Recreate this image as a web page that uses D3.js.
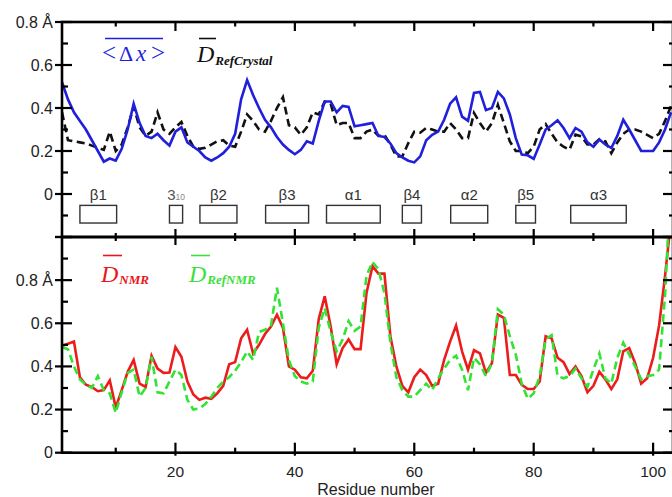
<!DOCTYPE html>
<html>
<head>
<meta charset="utf-8">
<script src="https://cdn.jsdelivr.net/npm/d3@7"></script>
<style>
  html, body { margin: 0; padding: 0; background: #fff; }
  svg { display: block; }
</style>
</head>
<body>
<svg id="chart" width="672" height="497"></svg>
<script>
// Residue numbers 1..103
const residues = d3.range(1, 104);

// Top panel: mean positional fluctuation <Δx> and crystal reference distance
const dxMean = [
  0.52, 0.44, 0.38, 0.34, 0.30, 0.25, 0.20, 0.15, 0.165, 0.155,
  0.21, 0.30, 0.42, 0.33, 0.27, 0.26, 0.28, 0.25, 0.225, 0.29,
  0.31, 0.24, 0.22, 0.20, 0.17, 0.155, 0.17, 0.19, 0.22, 0.28,
  0.44, 0.53, 0.46, 0.40, 0.345, 0.31, 0.265, 0.23, 0.205, 0.185,
  0.205, 0.245, 0.235, 0.34, 0.43, 0.43, 0.38, 0.41, 0.405, 0.315,
  0.32, 0.325, 0.33, 0.27, 0.265, 0.235, 0.19, 0.17, 0.155, 0.147,
  0.175, 0.25, 0.275, 0.29, 0.345, 0.42, 0.45, 0.36, 0.34, 0.47,
  0.475, 0.39, 0.40, 0.475, 0.445, 0.37, 0.26, 0.183, 0.18, 0.163,
  0.23, 0.30, 0.32, 0.343, 0.307, 0.26, 0.307, 0.29, 0.24, 0.22,
  0.253, 0.23, 0.214, 0.27, 0.345, 0.30, 0.25, 0.20, 0.20, 0.20,
  0.24, 0.30, 0.38
];
const dRefCrystal = [
  0.38, 0.25, 0.245, 0.24, 0.235, 0.225, 0.215, 0.205, 0.29, 0.20,
  0.23, 0.31, 0.405, 0.31, 0.27, 0.29, 0.38, 0.30, 0.28, 0.31,
  0.335, 0.27, 0.22, 0.21, 0.215, 0.23, 0.245, 0.25, 0.225, 0.22,
  0.29, 0.37, 0.34, 0.30, 0.29, 0.34, 0.40, 0.45, 0.32, 0.31,
  0.275, 0.31, 0.38, 0.37, 0.43, 0.42, 0.32, 0.33, 0.33, 0.26,
  0.26, 0.29, 0.30, 0.27, 0.275, 0.23, 0.175, 0.175, 0.237, 0.29,
  0.285, 0.307, 0.30, 0.29, 0.29, 0.33, 0.30, 0.26, 0.26, 0.377,
  0.33, 0.29, 0.33, 0.415, 0.33, 0.245, 0.20, 0.20, 0.19, 0.22,
  0.30, 0.325, 0.28, 0.24, 0.22, 0.206, 0.276, 0.268, 0.23, 0.23,
  0.255, 0.245, 0.19, 0.24, 0.28, 0.30, 0.30, 0.29, 0.275, 0.26,
  0.28, 0.34, 0.41
];

// Bottom panel: NMR ensemble distance and NMR reference distance
const dNMR = [
  0.495, 0.505, 0.515, 0.35, 0.315, 0.305, 0.285, 0.29, 0.335, 0.21,
  0.29, 0.375, 0.43, 0.32, 0.305, 0.45, 0.39, 0.37, 0.372, 0.49,
  0.445, 0.33, 0.27, 0.245, 0.255, 0.25, 0.275, 0.31, 0.41, 0.42,
  0.53, 0.57, 0.46, 0.50, 0.55, 0.585, 0.64, 0.58, 0.40, 0.385,
  0.35, 0.345, 0.38, 0.62, 0.725, 0.585, 0.41, 0.485, 0.525, 0.48,
  0.48, 0.74, 0.865, 0.83, 0.83, 0.54, 0.40, 0.31, 0.28, 0.35,
  0.385, 0.36, 0.31, 0.32, 0.43, 0.515, 0.59, 0.47, 0.385, 0.475,
  0.46, 0.37, 0.415, 0.64, 0.625, 0.36, 0.36, 0.315, 0.295, 0.295,
  0.33, 0.54, 0.53, 0.44, 0.42, 0.365, 0.40, 0.355, 0.28, 0.31,
  0.375, 0.34, 0.295, 0.34, 0.47, 0.485, 0.415, 0.32, 0.345, 0.44,
  0.59, 0.82, 1.08
];
const dRefNMR = [
  0.49, 0.48, 0.40, 0.34, 0.315, 0.30, 0.355, 0.29, 0.275, 0.185,
  0.28, 0.37, 0.385, 0.26, 0.30, 0.445, 0.28, 0.275, 0.33, 0.385,
  0.36, 0.245, 0.20, 0.205, 0.225, 0.26, 0.30, 0.33, 0.35, 0.38,
  0.42, 0.47, 0.43, 0.56, 0.57, 0.59, 0.765, 0.60, 0.43, 0.355,
  0.33, 0.32, 0.33, 0.58, 0.67, 0.56, 0.47, 0.525, 0.61, 0.565,
  0.585, 0.82, 0.885, 0.85, 0.74, 0.51, 0.35, 0.29, 0.26, 0.26,
  0.29, 0.32, 0.29, 0.345, 0.39, 0.43, 0.45, 0.385, 0.29, 0.44,
  0.41, 0.355, 0.415, 0.665, 0.64, 0.54, 0.455, 0.32, 0.25, 0.275,
  0.355, 0.525, 0.545, 0.355, 0.345, 0.355, 0.39, 0.345, 0.305, 0.385,
  0.46, 0.345, 0.32, 0.44, 0.51, 0.455, 0.40, 0.34, 0.355, 0.36,
  0.385, 0.73, 1.3
];

// Secondary structure elements (residue ranges)
const ssMain  = ["β1", "3", "β2", "β3", "α1", "β4", "α2", "β5", "α3"];
const ssSub   = ["", "10", "", "", "", "", "", "", ""];
const ssStart = [4.0, 19.0, 24.1, 35.1, 45.3, 58.0, 66.1, 77.0, 86.2];
const ssEnd   = [10.15, 21.2, 30.3, 42.3, 54.3, 61.2, 72.3, 80.3, 95.5];

// Axis ticks
const xMajorTicks = [20, 40, 60, 80, 100];
const xMinorTicks = [10, 30, 50, 70, 90];
const xTickLabels = ["20", "40", "60", "80", "100"];
const yTopMajor = [-0.2, 0, 0.2, 0.4, 0.6, 0.8];
const yTopMinor = [-0.1, 0.1, 0.3, 0.5, 0.7];
const yTopLabels = [["0", 0], ["0.2", 0.2], ["0.4", 0.4], ["0.6", 0.6], ["0.8 Å", 0.8]];
const yBotMajor = [0, 0.2, 0.4, 0.6, 0.8, 1.0];
const yBotMinor = [0.1, 0.3, 0.5, 0.7, 0.9];
const yBotLabels = [["0", 0], ["0.2", 0.2], ["0.4", 0.4], ["0.6", 0.6], ["0.8 Å", 0.8]];

(function draw() {
  const svg = d3.select("#chart");
  const pL = 62, pR = 673, pT = 22, pM = 237, pB = 452.7;

  const x = d3.scaleLinear().domain([1, 103.33]).range([pL, pR]);
  const yTop = d3.scaleLinear().domain([-0.2, 0.8]).range([pM, pT]);
  const yBot = d3.scaleLinear().domain([0, 1.0]).range([pB, pM]);

  const sans = "'Liberation Sans', Arial, Helvetica, sans-serif";
  const serif = "'Liberation Serif', 'Times New Roman', serif";

  const COL_BLUE = "#1f1fdc", COL_RED = "#ec1c1c", COL_GREEN = "#33e333";

  const defs = svg.append("defs");
  defs.append("clipPath").attr("id", "clipTop")
    .append("rect").attr("x", pL).attr("y", pT).attr("width", pR - pL).attr("height", pM - pT);
  defs.append("clipPath").attr("id", "clipBot")
    .append("rect").attr("x", pL).attr("y", pM).attr("width", pR - pL).attr("height", pB - pM);

  // data lines
  function drawLine(values, yScale, clip, color, dash) {
    const pts = residues.map((r, i) => [r, values[i]]);
    const line = d3.line().x(d => x(d[0])).y(d => yScale(d[1]));
    svg.append("path")
      .attr("clip-path", `url(#${clip})`)
      .attr("d", line(pts))
      .attr("fill", "none")
      .attr("stroke", color)
      .attr("stroke-width", 2.6)
      .attr("stroke-linejoin", "miter")
      .attr("stroke-dasharray", dash || null);
  }
  drawLine(dRefCrystal, yTop, "clipTop", "#111", "8,4.5");
  drawLine(dxMean, yTop, "clipTop", COL_BLUE);
  drawLine(dNMR, yBot, "clipBot", COL_RED);
  drawLine(dRefNMR, yBot, "clipBot", COL_GREEN, "8,4.5");

  // secondary structure boxes
  const ss = svg.append("g");
  ssMain.forEach((name, i) => {
    const x0 = x(ssStart[i]), x1 = x(ssEnd[i]);
    ss.append("rect")
      .attr("x", x0).attr("y", yTop(-0.053))
      .attr("width", x1 - x0).attr("height", yTop(-0.135) - yTop(-0.053))
      .attr("fill", "#fff").attr("stroke", "#333").attr("stroke-width", 1.4);
    const t = ss.append("text")
      .attr("x", (x0 + x1) / 2).attr("y", yTop(-0.028))
      .attr("text-anchor", "middle")
      .attr("font-family", sans).attr("font-size", 15).attr("fill", "#333");
    t.append("tspan").text(name).attr("fill", ssSub[i] ? "#555" : "#333");
    if (ssSub[i]) {
      t.append("tspan").text(ssSub[i]).attr("font-size", 8.5).attr("fill", "#888");
    }
  });

  // frames
  const frame = svg.append("g").attr("fill", "none").attr("stroke", "#000").attr("stroke-width", 2.6);
  frame.append("rect").attr("x", pL).attr("y", pT).attr("width", pR - pL).attr("height", pM - pT);
  frame.append("rect").attr("x", pL).attr("y", pM).attr("width", pR - pL).attr("height", pB - pM);

  // ticks
  const tk = svg.append("g").attr("stroke", "#000").attr("stroke-width", 2.2);
  function vtick(v, y0, y1) { tk.append("line").attr("x1", x(v)).attr("x2", x(v)).attr("y1", y0).attr("y2", y1); }
  function htick(y, x0, x1) { tk.append("line").attr("x1", x0).attr("x2", x1).attr("y1", y).attr("y2", y); }

  xMajorTicks.forEach(v => { vtick(v, pT, pT + 9); vtick(v, pM - 8, pM + 8); vtick(v, pB - 10, pB + 3); });
  xMinorTicks.forEach(v => { vtick(v, pT, pT + 4.5); vtick(v, pM - 4, pM + 4); vtick(v, pB - 5, pB); });

  yTopMajor.forEach(v => { htick(yTop(v), pL - 7, pL + 10); htick(yTop(v), pR - 10, pR); });
  yTopMinor.forEach(v => { htick(yTop(v), pL, pL + 6); htick(yTop(v), pR - 4, pR); });
  yBotMajor.forEach(v => { htick(yBot(v), pL - 7, pL + 10); htick(yBot(v), pR - 10, pR); });
  yBotMinor.forEach(v => { htick(yBot(v), pL, pL + 6); htick(yBot(v), pR - 4, pR); });

  // tick labels
  const lab = svg.append("g").attr("font-family", sans).attr("font-size", 16).attr("fill", "#222");
  yTopLabels.forEach(([t, v]) => {
    lab.append("text").attr("x", 53).attr("y", yTop(v)).attr("dy", "0.36em")
      .attr("text-anchor", "end").text(t);
  });
  yBotLabels.forEach(([t, v]) => {
    lab.append("text").attr("x", 53).attr("y", yBot(v)).attr("dy", "0.36em")
      .attr("text-anchor", "end").text(t);
  });
  xMajorTicks.forEach((v, i) => {
    lab.append("text").attr("x", x(v)).attr("y", 476.5).attr("font-size", 15.5)
      .attr("text-anchor", "middle").text(xTickLabels[i]);
  });
  lab.append("text").attr("x", 376).attr("y", 495).attr("font-size", 16)
    .attr("text-anchor", "middle").text("Residue number");

  // legends
  function overbar(x0, x1, y, color) {
    svg.append("line").attr("x1", x0).attr("x2", x1).attr("y1", y).attr("y2", y)
      .attr("stroke", color).attr("stroke-width", 1.6);
  }

  // <Δx>
  const g1 = svg.append("text").attr("y", 61).attr("font-family", serif).attr("fill", COL_BLUE);
  g1.append("tspan").attr("x", 102).attr("font-size", 25).text("<");
  g1.append("tspan").attr("x", 119).attr("font-size", 22).text("Δ");
  g1.append("tspan").attr("x", 136).attr("font-size", 23).attr("font-style", "italic").text("x");
  g1.append("tspan").attr("x", 151).attr("font-size", 25).text(">");
  overbar(105, 163, 38.5, COL_BLUE);

  // D with subscript
  function dLabel(xd, yb, sub, color, subDy) {
    const t = svg.append("text").attr("y", yb).attr("font-family", serif).attr("fill", color);
    t.append("tspan").attr("x", xd).attr("font-size", 24).attr("font-style", "italic").text("D");
    t.append("tspan").attr("font-size", 13).attr("font-style", "italic").attr("font-weight", "bold")
      .attr("dx", 1).attr("dy", subDy).text(sub);
  }
  dLabel(197, 61.5, "RefCrystal", "#111", 3.5);
  overbar(199, 216, 38.5, "#111");

  dLabel(101, 281.5, "NMR", "#e8161b", 2);
  overbar(103, 122, 255.5, "#e8161b");

  dLabel(189, 281.5, "RefNMR", "#3ce03c", 2);
  overbar(191, 210, 255.5, "#3ce03c");
})();
</script>
</body>
</html>
